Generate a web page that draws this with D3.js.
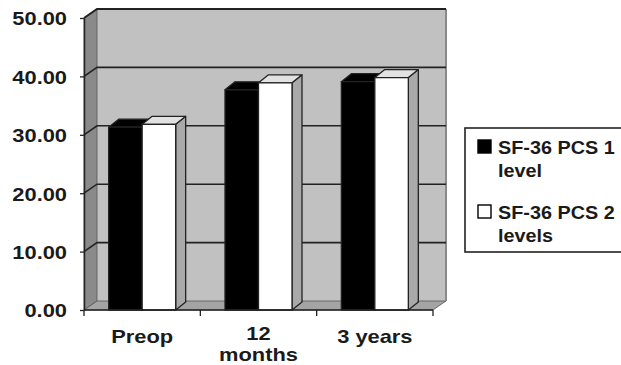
<!DOCTYPE html>
<html><head><meta charset="utf-8">
<script src="https://cdn.jsdelivr.net/npm/d3@7"></script>
<style>
html,body{margin:0;padding:0;background:#fff;}
svg{display:block;font-family:"Liberation Sans",Arial,sans-serif;font-weight:bold;}
</style>
</head><body>
<svg id="chart" width="621" height="365"></svg>
<script>
// Categories and series values (SF-36 physical component score)
const categories = ["Preop", "12 months", "3 years"];
const categoryLines = [["Preop"], ["12", "months"], ["3 years"]];
const seriesNames = ["SF-36 PCS 1 level", "SF-36 PCS 2 levels"];
const legendLines = [["SF-36 PCS 1", "level"], ["SF-36 PCS 2", "levels"]];
const pcs1Level = [31.3, 37.7, 39.1];
const pcs2Levels = [31.8, 38.9, 39.8];
const yTicks = [0, 10, 20, 30, 40, 50];

const seriesValues = [pcs1Level, pcs2Levels];
const seriesFill = ["#000000", "#ffffff"];
const seriesTop = ["#000000", "#e2e2e2"];
const seriesSide = ["#000000", "#a9a9a9"];

const svg = d3.select("#chart");
const plotLeft = 84, plotRight = 433, plotTop = 18, plotBottom = 310;
const wallDx = 13, wallDy = -9;   // depth of the walls
const barDx = 10, barDy = -8;     // depth of each column
const ink = "#222";

const y = d3.scaleLinear().domain([0, 50]).range([plotBottom, plotTop]);
const x = d3.scaleBand().domain(categories).range([plotLeft, plotRight])
  .paddingInner(0.424).paddingOuter(0.212);
const xs = d3.scaleBand().domain(seriesNames).range([0, x.bandwidth()]);

// stretch text horizontally (wide bold face)
function stretch(sel, k) {
  sel.each(function () {
    const w = this.getComputedTextLength();
    this.setAttribute("textLength", w * k);
    this.setAttribute("lengthAdjust", "spacingAndGlyphs");
  });
}

const pts = a => a.map(p => p.join(",")).join(" ");

// back wall
svg.append("rect")
  .attr("x", plotLeft + wallDx).attr("y", plotTop + wallDy)
  .attr("width", plotRight - plotLeft).attr("height", plotBottom - plotTop)
  .attr("fill", "#c1c1c1");
// left side wall
svg.append("polygon")
  .attr("points", pts([[plotLeft, plotTop], [plotLeft + wallDx, plotTop + wallDy], [plotLeft + wallDx, plotBottom + wallDy], [plotLeft, plotBottom]]))
  .attr("fill", "#8a8a8a").attr("stroke", "#555").attr("stroke-width", 0.8);
// floor
svg.append("polygon")
  .attr("points", pts([[plotLeft, plotBottom], [plotLeft + wallDx, plotBottom + wallDy], [plotRight + wallDx, plotBottom + wallDy], [plotRight, plotBottom]]))
  .attr("fill", "#a4a4a4").attr("stroke", "#555").attr("stroke-width", 0.8);
// right edge of back wall
svg.append("line")
  .attr("x1", plotRight + wallDx).attr("x2", plotRight + wallDx)
  .attr("y1", plotTop + wallDy).attr("y2", plotBottom + wallDy)
  .attr("stroke", "#8a8a8a").attr("stroke-width", 2);

// gridlines across side wall and back wall
svg.append("g").selectAll("path").data(yTicks.filter(t => t > 0)).join("path")
  .attr("d", t => `M${plotLeft},${y(t)}L${plotLeft + wallDx},${y(t) + wallDy}L${plotRight + wallDx},${y(t) + wallDy}`)
  .attr("fill", "none").attr("stroke", ink).attr("stroke-width", t => t === 50 ? 2 : 1.6);

// columns
const bars = [];
categories.forEach((c, i) => seriesNames.forEach((s, j) => bars.push({ c, s, j, v: seriesValues[j][i] })));
const bg = svg.append("g").attr("stroke", ink).attr("stroke-width", 1.3).attr("stroke-linejoin", "round");
bars.forEach(d => {
  const x0 = x(d.c) + xs(d.s), w = xs.bandwidth(), y0 = y(d.v);
  bg.append("polygon")
    .attr("points", pts([[x0 + w, y0], [x0 + w + barDx, y0 + barDy], [x0 + w + barDx, plotBottom + barDy], [x0 + w, plotBottom]]))
    .attr("fill", seriesSide[d.j]);
  bg.append("polygon")
    .attr("points", pts([[x0, y0], [x0 + barDx, y0 + barDy], [x0 + w + barDx, y0 + barDy], [x0 + w, y0]]))
    .attr("fill", seriesTop[d.j]);
  bg.append("rect")
    .attr("x", x0).attr("y", y0).attr("width", w).attr("height", plotBottom - y0)
    .attr("fill", seriesFill[d.j]);
});

// value axis
const yAxis = svg.append("g").attr("transform", `translate(${plotLeft},0)`)
  .call(d3.axisLeft(y).tickValues(yTicks).tickFormat(d3.format(".2f"))
    .tickSize(4).tickSizeOuter(0).tickPadding(13));
yAxis.select(".domain").attr("stroke", ink).attr("stroke-width", 1.5);
yAxis.selectAll(".tick line").attr("stroke", ink).attr("stroke-width", 1.3);
yAxis.selectAll(".tick text").attr("fill", "#1a1a1a").attr("font-size", 19)
  .attr("font-family", '"Liberation Sans",Arial,sans-serif').attr("font-weight", "bold")
  .attr("dy", "0.36em");
stretch(yAxis.selectAll(".tick text"), 1.15);

// category axis
svg.append("line").attr("x1", plotLeft).attr("x2", plotRight).attr("y1", plotBottom).attr("y2", plotBottom)
  .attr("stroke", ink).attr("stroke-width", 1.5);
const bounds = categories.map(c => x(c) - x.step() * x.paddingInner() / 2).concat([plotRight]);
svg.append("g").selectAll("line").data(bounds).join("line")
  .attr("x1", d => d).attr("x2", d => d).attr("y1", plotBottom).attr("y2", plotBottom + 6)
  .attr("stroke", ink).attr("stroke-width", 1.3);
const catText = svg.append("g").selectAll("text").data(categories).join("text")
  .attr("x", c => x(c) + x.bandwidth() / 2)
  .attr("y", (c, i) => categoryLines[i].length > 1 ? 339.5 : 343)
  .attr("text-anchor", "middle").attr("font-size", 19).attr("fill", "#1a1a1a");
catText.each(function (c, i) {
  d3.select(this).selectAll("tspan").data(categoryLines[i]).join("tspan")
    .attr("x", x(c) + x.bandwidth() / 2).attr("dy", (d, k) => k ? 21.3 : 0).text(d => d);
});
stretch(catText.selectAll("tspan"), 1.15);

// legend
const lg = svg.append("g");
lg.append("rect").attr("x", 465).attr("y", 128).attr("width", 170).attr("height", 124)
  .attr("fill", "#fff").attr("stroke", ink).attr("stroke-width", 1.6);
seriesNames.forEach((s, j) => {
  const gy = 140 + j * 65;
  lg.append("rect").attr("x", 478).attr("y", gy).attr("width", 13).attr("height", 13)
    .attr("fill", seriesFill[j]).attr("stroke", "#000").attr("stroke-width", 1.4);
  const t = lg.append("text").attr("x", 498).attr("y", gy + 14).attr("font-size", 18).attr("fill", "#1a1a1a");
  t.selectAll("tspan").data(legendLines[j]).join("tspan")
    .attr("x", 498).attr("dy", (d, k) => k ? 23 : 0).text(d => d);
  stretch(t.selectAll("tspan"), 1.1);
});
</script>
</body></html>
